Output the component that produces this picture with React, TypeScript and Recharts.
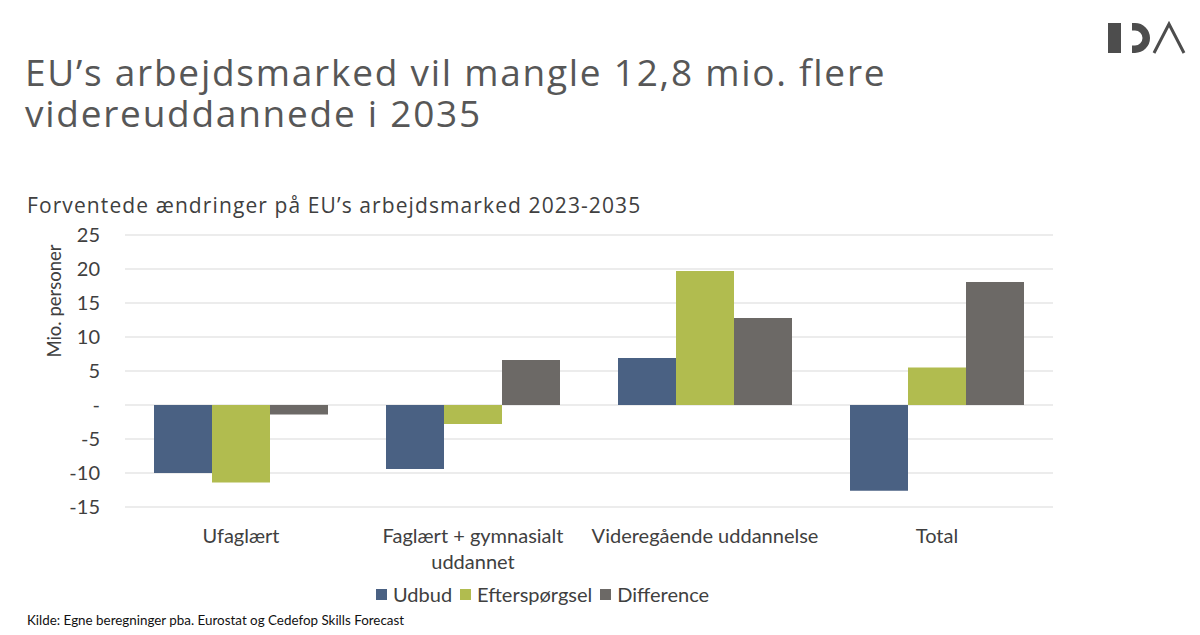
import React from 'react';
import { BarChart, Bar, XAxis, YAxis, CartesianGrid, Legend, Label } from 'recharts';

const categories = ['Ufaglært', 'Faglært + gymnasialt uddannet', 'Videregående uddannelse', 'Total'];
const tickLines = [['Ufaglært'], ['Faglært + gymnasialt', 'uddannet'], ['Videregående uddannelse'], ['Total']];
const udbud = [-10.0, -9.4, 6.9, -12.6];
const efterspoergsel = [-11.4, -2.8, 19.7, 5.5];
const difference = [-1.4, 6.6, 12.8, 18.1];
const yTicks = [-15, -10, -5, 0, 5, 10, 15, 20, 25];

const series = [
  { key: 'udbud', name: 'Udbud', color: '#4a6183' },
  { key: 'efterspoergsel', name: 'Efterspørgsel', color: '#b1bc4f' },
  { key: 'difference', name: 'Difference', color: '#6c6966' },
];

const data = categories.map((c, i) => ({
  category: c,
  udbud: udbud[i],
  efterspoergsel: efterspoergsel[i],
  difference: difference[i],
}));

const FONT = 'Lato, "Open Sans", sans-serif';
const TEXT = '#404040';

const CategoryTick = (props: any) => {
  const { x, y, payload } = props;
  const idx = categories.indexOf(payload.value);
  const lines = idx >= 0 ? tickLines[idx] : [payload.value];
  return (
    <g>
      {lines.map((l: string, i: number) => (
        <text
          key={i}
          x={x}
          y={y + 28 + i * 26}
          textAnchor="middle"
          fill={TEXT}
          fontSize={20}
          fontFamily={FONT}
        >
          {l}
        </text>
      ))}
    </g>
  );
};

const LegendContent = (props: any) => {
  const { payload } = props;
  const ordered = [...(payload || [])].sort(
    (a: any, b: any) =>
      series.findIndex((s) => s.key === a.dataKey) - series.findIndex((s) => s.key === b.dataKey)
  );
  return (
    <div style={{ display: 'flex', alignItems: 'center', fontFamily: FONT, fontSize: 20, color: TEXT, whiteSpace: 'nowrap' }}>
      {ordered.map((p: any, i: number) => (
        <div key={i} style={{ display: 'flex', alignItems: 'center', marginRight: 8 }}>
          <span style={{ display: 'inline-block', width: 11, height: 11, background: p.color, marginRight: 6 }} />
          <span>{p.value}</span>
        </div>
      ))}
    </div>
  );
};

const YLabel = () => (
  <text
    x={56}
    y={301}
    transform="rotate(-90 56 301)"
    textAnchor="middle"
    dominantBaseline="middle"
    fill={TEXT}
    fontSize={18.5}
    fontFamily={FONT}
  >
    Mio. personer
  </text>
);

const Logo = () => (
  <svg width={1200} height={70} style={{ position: 'absolute', left: 0, top: 0 }}>
    <rect x={1108} y={23} width={13} height={30} fill="#4d4d4d" />
    <path
      d="M1132 23 H1135 A15 15 0 0 1 1135 53 H1132 V45.5 H1135 A7.5 7.5 0 0 0 1135 30.5 H1132 Z"
      fill="#4d4d4d"
    />
    <polyline points="1154,53 1169,24 1184,53" fill="none" stroke="#4d4d4d" strokeWidth={3} />
  </svg>
);

export default function App() {
  return (
    <div style={{ position: 'absolute', left: 0, top: 0, width: 1200, height: 635, background: '#fff', overflow: 'hidden' }}>
      <Logo />
      <div
        style={{
          position: 'absolute',
          left: 25,
          top: 51,
          fontFamily: '"Open Sans", sans-serif',
          fontSize: 37,
          lineHeight: '41px',
          letterSpacing: 1.75,
          color: '#575757',
          whiteSpace: 'nowrap',
        }}
      >
        <div>EU’s arbejdsmarked vil mangle 12,8 mio. flere</div>
        <div>videreuddannede i 2035</div>
      </div>
      <div
        style={{
          position: 'absolute',
          left: 27,
          top: 191,
          fontFamily: '"Open Sans", sans-serif',
          fontSize: 21,
          letterSpacing: 1.1,
          color: TEXT,
          whiteSpace: 'nowrap',
        }}
      >
        Forventede ændringer på EU’s arbejdsmarked 2023-2035
      </div>
      <div style={{ position: 'absolute', left: 0, top: 0 }}>
        <BarChart
          width={1200}
          height={635}
          data={data}
          margin={{ top: 235, right: 147, bottom: 68, left: 65 }}
          barCategoryGap="12.5%"
          barGap={0}
        >
          <CartesianGrid vertical={false} stroke="#d9d9d9" strokeWidth={1} />
          <XAxis
            dataKey="category"
            axisLine={false}
            tickLine={false}
            height={60}
            interval={0}
            tick={<CategoryTick />}
          />
          <YAxis
            width={60}
            domain={[-15, 25]}
            ticks={yTicks}
            axisLine={false}
            tickLine={false}
            tickSize={0}
            tickMargin={25}
            interval={0}
            tick={{ fill: TEXT, fontSize: 20, fontFamily: FONT }}
            tickFormatter={(v: number) => (v === 0 ? '-' : String(v))}
          >
            <Label content={<YLabel />} />
          </YAxis>
          <Legend
            layout="horizontal"
            verticalAlign="middle"
            align="center"
            itemSorter={null as any}
            wrapperStyle={{ top: 582, left: 376, width: 'auto' }}
            content={<LegendContent />}
          />
          {series.map((s) => (
            <Bar key={s.key} dataKey={s.key} name={s.name} fill={s.color} isAnimationActive={false} />
          ))}
        </BarChart>
      </div>
      <div
        style={{
          position: 'absolute',
          left: 27,
          top: 612,
          fontFamily: FONT,
          fontSize: 13.4,
          color: '#111',
          whiteSpace: 'nowrap',
        }}
      >
        Kilde: Egne beregninger pba. Eurostat og Cedefop Skills Forecast
      </div>
    </div>
  );
}
